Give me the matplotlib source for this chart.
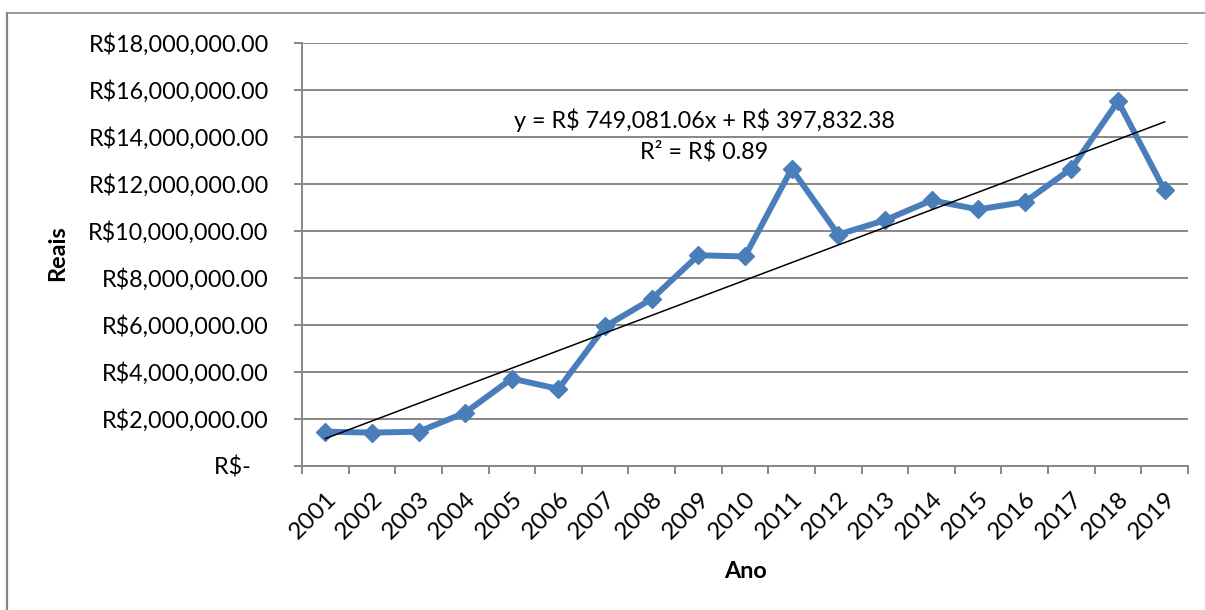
import matplotlib
matplotlib.use("Agg")
import matplotlib.pyplot as plt
from matplotlib.lines import Line2D
from matplotlib.ticker import FuncFormatter, FixedLocator, NullFormatter

# Annual values in reais
anos = ["2001", "2002", "2003", "2004", "2005", "2006", "2007", "2008", "2009", "2010",
        "2011", "2012", "2013", "2014", "2015", "2016", "2017", "2018", "2019"]
reais = [1.44e6, 1.40e6, 1.44e6, 2.25e6, 3.70e6, 3.26e6, 5.92e6, 7.09e6, 8.95e6, 8.90e6,
         12.63e6, 9.83e6, 10.44e6, 11.29e6, 10.90e6, 11.22e6, 12.64e6, 15.51e6, 11.71e6]

# Linear trend (x = 1..n)
inclinacao = 749081.06
intercepto = 397832.38
r2 = 0.89

plt.rcParams["font.family"] = ["Lato", "DejaVu Sans"]
plt.rcParams["text.parse_math"] = False
FS = 16.8

W, H, DPI = 1205, 610, 100
fig = plt.figure(figsize=(W / DPI, H / DPI), dpi=DPI)
ax = fig.add_axes([302 / W, 1 - 465.5 / H, (1188 - 302) / W, (465.5 - 42.7) / H])

grid_col = "#878787"
blue = "#4A7EBB"

n = len(anos)
xs = list(range(n))
ax.plot(xs, reais, color=blue, lw=4.3, marker="D", ms=9, mfc=blue, mec=blue,
        solid_joinstyle="miter", zorder=3)

# trendline from the fitted equation
t0, t1 = 1, n
ax.plot([t0 - 1, t1 - 1], [intercepto + inclinacao * t0, intercepto + inclinacao * t1],
        color="black", lw=1.1, zorder=4)

ax.set_xlim(-0.5, n - 0.5)
ax.set_ylim(0, 18e6)

yt = [i * 2e6 for i in range(10)]
ax.set_yticks(yt)


def fmt_reais(v, pos):
    if v == 0:
        return "R$-   "
    return "R${:,.2f}".format(v)


ax.yaxis.set_major_formatter(FuncFormatter(fmt_reais))
ax.grid(axis="y", color=grid_col, lw=1.4)
ax.set_axisbelow(True)

# category ticks between categories, labels at the centres
ax.xaxis.set_major_locator(FixedLocator([i - 0.5 for i in range(n + 1)]))
ax.xaxis.set_major_formatter(NullFormatter())
ax.xaxis.set_minor_locator(FixedLocator(xs))
ax.set_xticklabels(anos, minor=True, rotation=45, ha="right", va="top",
                   rotation_mode="anchor", fontsize=17.5)
ax.tick_params(axis="x", which="minor", length=0, pad=16)
ax.tick_params(axis="x", which="major", length=6, width=1.4, color=grid_col, direction="out")
ax.tick_params(axis="y", which="major", length=6, width=1.4, color=grid_col,
               direction="out", labelsize=FS, pad=18)

for s in ("top", "right"):
    ax.spines[s].set_visible(False)
for s in ("left", "bottom"):
    ax.spines[s].set_color(grid_col)
    ax.spines[s].set_linewidth(1.4)

fig.text(745 / W, 1 - 571 / H, "Ano", fontsize=FS, fontweight="bold",
         ha="center", va="center")
fig.text(58 / W, 1 - 253 / H, "Reais", fontsize=FS, fontweight="bold",
         ha="center", va="center", rotation=90)

eq = "y = R$ {:,.2f}x + R$ {:,.2f}".format(inclinacao, intercepto)
fig.text(704 / W, 1 - 120 / H, eq, fontsize=FS, ha="center", va="center")
fig.text(704 / W, 1 - 152 / H, "R² = R$ {:.2f}".format(r2), fontsize=FS,
         ha="center", va="center")

# chart-area border (top and left edges)
fig.add_artist(Line2D([7.5 / W, 7.5 / W], [0, 1 - 13 / H], color=grid_col, lw=1.6,
                      transform=fig.transFigure))
fig.add_artist(Line2D([7.5 / W, 1], [1 - 13 / H, 1 - 13 / H], color=grid_col, lw=1.2,
                      transform=fig.transFigure))

fig.savefig("out.png", dpi=DPI)
